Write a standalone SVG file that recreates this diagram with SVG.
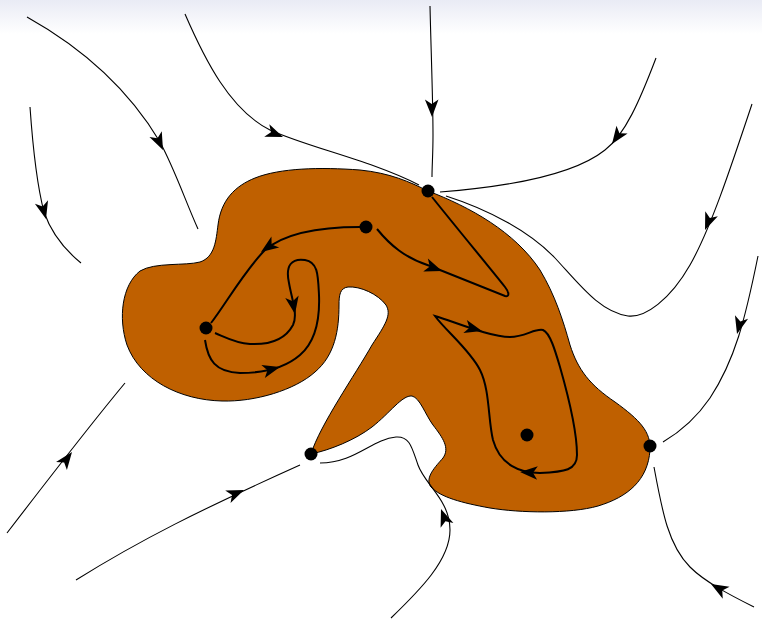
<svg xmlns="http://www.w3.org/2000/svg" xmlns:xlink="http://www.w3.org/1999/xlink" width="762" height="620" viewBox="0 0 762 620">
<style>
.thin{fill:none;stroke:#000;stroke-width:1.1}
.thick{fill:none;stroke:#000;stroke-width:2}
.blob{fill:#bf6000;stroke:#000;stroke-width:1}
.dot{fill:#000}
</style>
<defs>
<linearGradient id="band" x1="0" y1="0" x2="0" y2="1">
<stop offset="0" stop-color="#e9ebf5"/>
<stop offset="1" stop-color="#ffffff"/>
</linearGradient>
<path id="ah" d="M0,0 L-17.5,-6.8 L-13,0 L-17.5,6.8 Z" fill="#000"/>
</defs>
<rect x="0" y="0" width="762" height="620" fill="#fff"/>
<rect x="0" y="0" width="762" height="34" fill="url(#band)"/>
<g id="region">
<path class="blob" d="M311,454 C320,425 355,375 372,345 C385,325 392,315 386,305 C378,294 360,286 348,287 C340,288 339,295 339,305 C339,330 335,355 315,372 C295,390 255,402 222,401 C180,400 140,380 127,345 C118,318 122,285 140,271 C155,262 185,266 200,262 C215,257 216,240 218,225 C221,200 235,186 255,178 C280,168 320,167 360,170 C390,173 410,182 428,191 C470,207 515,232 540,270 C555,295 563,320 570,345 C578,370 590,385 615,402 C640,420 651,432 650,450 C648,480 628,497 598,506 C570,514 520,513 490,508 C462,503 440,497 431,487 C424,478 436,466 443,458 C450,448 443,438 433,425 C425,414 420,398 412,396 C402,395 390,413 372,427 C355,440 330,450 311,454 Z"/>
</g>
<g id="connectors">
<path class="thin" d="M27,17 C95,55 135,100 160,142 C175,170 185,200 198,229"/>
<path class="thin" d="M30,107 C33,150 37,185 44,212 C52,235 65,250 81,263"/>
<path class="thin" d="M185,14 C205,60 230,110 270,130 C310,148 370,160 419,185"/>
<path class="thin" d="M430,6 C431,50 433,100 433,135 C433,155 432,165 432,177"/>
<path class="thin" d="M656,58 C640,100 625,135 605,150 C580,170 530,185 440,192"/>
<path class="thin" d="M752,104 C730,170 710,230 690,265 C670,300 645,318 628,316 C600,312 580,285 555,258 C530,232 490,210 446,196"/>
<path class="thin" d="M758,256 C745,320 735,360 710,398 C695,420 680,432 663,442"/>
<path class="thin" d="M654,467 C662,510 668,545 690,567 C705,582 730,595 754,607"/>
<path class="thin" d="M391,618 C420,590 450,560 450,530 C450,500 425,485 418,465 C412,448 410,436 396,437 C372,439 355,463 320,463"/>
<path class="thin" d="M76,580 C140,540 200,510 300,465"/>
<path class="thin" d="M7,533 C40,490 90,425 125,383"/>
<path class="thick" d="M360,227 C320,227 285,233 265,250 C245,270 225,305 211,323"/>
<path class="thick" d="M205,340 C208,360 215,372 240,373 C265,373 285,368 300,355 C315,342 320,320 319,295 C318,275 318,262 305,260 C292,258 285,265 289,283 C292,300 298,315 293,325 C285,340 270,345 250,344 C235,343 225,337 215,333"/>
<path class="thick" d="M377,229 C390,245 405,258 430,266 C460,278 490,290 505,296 C510,297 509,292 505,287 C490,268 460,232 432,197"/>
<path class="thick" d="M435,316 C455,322 490,337 510,337 C525,337 535,328 543,330 C550,333 555,350 560,367 C568,395 577,430 577,455 C577,470 565,472 540,473 C520,473 500,465 493,440 C488,420 490,390 480,370 C470,350 445,330 435,316 Z"/>
<use xlink:href="#ah" href="#ah" transform="translate(163,150) rotate(65)"/>
<use xlink:href="#ah" href="#ah" transform="translate(46,219) rotate(75)"/>
<use xlink:href="#ah" href="#ah" transform="translate(283,137) rotate(22)"/>
<use xlink:href="#ah" href="#ah" transform="translate(432,117) rotate(89)"/>
<use xlink:href="#ah" href="#ah" transform="translate(612,144) rotate(125)"/>
<use xlink:href="#ah" href="#ah" transform="translate(705,230) rotate(112)"/>
<use xlink:href="#ah" href="#ah" transform="translate(737,334) rotate(105)"/>
<use xlink:href="#ah" href="#ah" transform="translate(711,584) rotate(210)"/>
<use xlink:href="#ah" href="#ah" transform="translate(441,509) rotate(250)"/>
<use xlink:href="#ah" href="#ah" transform="translate(244,490) rotate(-23)"/>
<use xlink:href="#ah" href="#ah" transform="translate(72,452) rotate(-53)"/>
<use xlink:href="#ah" href="#ah" transform="translate(261,252) rotate(145)"/>
<use xlink:href="#ah" href="#ah" transform="translate(295,314) rotate(80)"/>
<use xlink:href="#ah" href="#ah" transform="translate(280,367) rotate(-15)"/>
<use xlink:href="#ah" href="#ah" transform="translate(442,271) rotate(20)"/>
<use xlink:href="#ah" href="#ah" transform="translate(482,331) rotate(15)"/>
<use xlink:href="#ah" href="#ah" transform="translate(520,472) rotate(183)"/>
</g>
<g id="n1"><circle class="dot" cx="428" cy="191" r="6.5"/></g>
<g id="n2"><circle class="dot" cx="366" cy="227" r="6.5"/></g>
<g id="n3"><circle class="dot" cx="206" cy="328" r="6.5"/></g>
<g id="n4"><circle class="dot" cx="311" cy="454" r="6.5"/></g>
<g id="n5"><circle class="dot" cx="650" cy="446" r="6.5"/></g>
<g id="n6"><circle class="dot" cx="527" cy="435" r="6.5"/></g>
</svg>
